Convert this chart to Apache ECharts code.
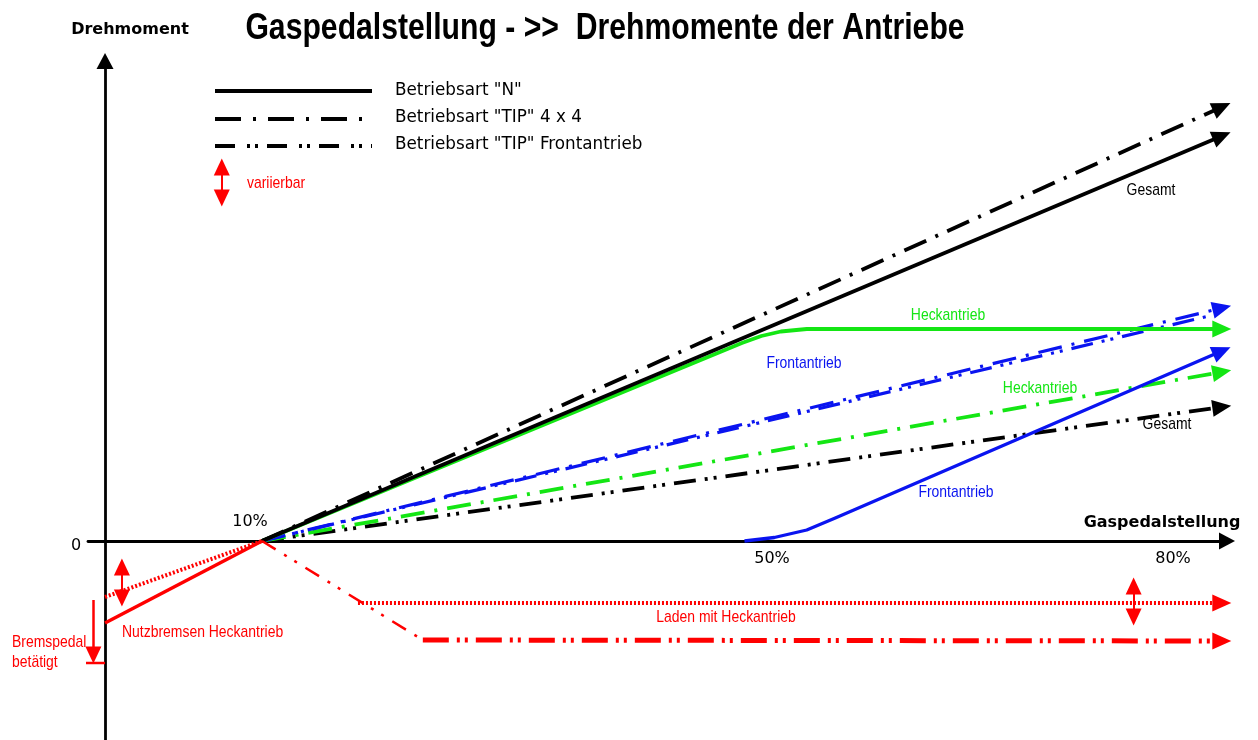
<!DOCTYPE html>
<html><head><meta charset="utf-8">
<script src="https://cdn.jsdelivr.net/npm/echarts@6/dist/echarts.min.js"></script>
<style>html,body{margin:0;padding:0;background:#fff}#c{width:1258px;height:740px}</style>
</head><body><div id="c"></div>
<script>
// ---- data (x: Gaspedalstellung in %, y: Drehmoment, arbitrary units) ----
const nGesamt        = [[10, 0], [84, 40.5]];
const tip4x4Gesamt   = [[10, 0], [84, 43.4]];
const nHeck          = [[10, 0], [47, 19.8], [48.5, 20.5], [50, 20.95], [52, 21.2], [84, 21.2]];
const nFront         = [[47.2, 0], [49.5, 0.35], [52, 1.1], [54.2, 2.3], [84, 19.0]];
const tip4x4Front    = [[10, 0], [84, 23.3]];
const tipFrontFront  = [[10, 0], [83, 22.5]];
const tip4x4Heck     = [[10, 0], [84, 16.9]];
const tipFrontGesamt = [[10, 0], [84, 13.4]];
const bremsVar       = [[-2.1, -5.6], [10, 0]];
const bremsN         = [[-2.1, -8.2], [10, 0]];
const ladenDiag      = [[10, 0], [22.4, -9.9]];
const ladenTip       = [[22.4, -9.9], [84, -10.0]];
const ladenN         = [[17.4, -6.2], [84, -6.2]];
const varArrowLeft   = [[-0.8, -2.6], [-0.8, -5.7]];
const varArrowRight  = [[77.2, -4.5], [77.2, -7.6]];
const varArrowLegend = [[6.9, 37.4], [6.9, 34.3]];
const bremsArrow     = [[-3.0, -5.9], [-3.0, -11.4]];
const bremsTick      = [[-4.2, -12.2], [-2.1, -12.2]];
const xTickLabels    = ['10%', '50%', '80%'];
const yTickLabels    = ['0'];
const legendLabels   = ['Betriebsart "N"', 'Betriebsart "TIP" 4 x 4', 'Betriebsart "TIP" Frontantrieb'];

const chart = echarts.init(document.getElementById('c'), null, {renderer: 'canvas'});
const SANS = "'Liberation Sans',Arial,sans-serif";
const DEJAVU = "'DejaVu Sans',sans-serif";
const RED = '#ff0000', GREEN = '#14e614', BLUE = '#0a14f0', BLACK = '#000000';
const DASH_DOT = [24, 10, 3, 10];
const DASH_DOT_DOT = [22, 9, 3, 6, 3, 9];

function curve(pts, color, width, dash, arrow, z) {
  const s = {
    type: 'line', data: pts, showSymbol: false, symbol: 'none', silent: true,
    animation: false, clip: false, z: z || 2,
    lineStyle: {color: color, width: width, type: dash || 'solid', cap: 'butt', join: 'round'},
    emphasis: {disabled: true}
  };
  if (arrow) {
    const a = pts[pts.length - 2], b = pts[pts.length - 1];
    const t = 0.002;
    const st = [b[0] - (b[0] - a[0]) * t, b[1] - (b[1] - a[1]) * t];
    s.markLine = {
      silent: true, animation: false, symbol: ['none', 'triangle'], symbolSize: [17, 19],
      label: {show: false}, emphasis: {disabled: true},
      lineStyle: {color: color, width: 1, type: 'solid'},
      data: [[{coord: st}, {coord: b}]]
    };
  }
  return s;
}
function dblArrow(pts, color, width, both) {
  return {
    type: 'line', data: [], showSymbol: false, silent: true, animation: false, clip: false, z: 3,
    markLine: {
      silent: true, animation: false, symbol: both ? ['triangle', 'triangle'] : ['none', 'triangle'],
      symbolSize: [16, 17], label: {show: false}, emphasis: {disabled: true},
      lineStyle: {color: color, width: width, type: 'solid'},
      data: [[{coord: pts[0]}, {coord: pts[1]}]]
    }
  };
}

const series = [
  curve(tipFrontGesamt, BLACK, 3.8, DASH_DOT_DOT, true),
  curve(tip4x4Heck, GREEN, 3.8, DASH_DOT, true),
  curve(tipFrontFront, BLUE, 3.2, DASH_DOT_DOT, false),
  curve(tip4x4Front, BLUE, 3.2, DASH_DOT, true),
  curve(nHeck, GREEN, 3.8, 'solid', true),
  curve(nGesamt, BLACK, 3.8, 'solid', true),
  curve(tip4x4Gesamt, BLACK, 3.8, DASH_DOT, true),
  curve(nFront, BLUE, 3.3, 'solid', true),
  curve(bremsVar, RED, 4, [2, 2], false),
  curve(bremsN, RED, 3.5, 'solid', false),
  curve(ladenDiag, RED, 2.5, [16, 10, 3, 9, 3, 10], false),
  curve(ladenTip, RED, 5, [26, 8, 3, 5, 3, 8], true),
  curve(ladenN, RED, 4, [2, 2], true),
  dblArrow(varArrowLeft, RED, 2, true),
  dblArrow(varArrowRight, RED, 2, true),
  dblArrow(varArrowLegend, RED, 2, true),
  dblArrow(bremsArrow, RED, 2.5, false),
  curve(bremsTick, RED, 2.5, 'solid', false)
];

function txt(x, y, text, font, color, align, sx) {
  return {type: 'text', x: x, y: y, silent: true, z: 10, scaleX: sx || 1,
    style: {text: text, font: font, fill: color || '#000', align: align || 'center', verticalAlign: 'middle'}};
}
function ann(x, y, text, color, align) {
  return txt(x, y, text, "17px " + SANS, color, align, 0.82);
}
function legendLine(y, dash) {
  return {type: 'line', silent: true, z: 10, shape: {x1: 215, y1: y, x2: 372, y2: y},
    style: {stroke: '#000', lineWidth: 4, lineDash: dash || null, lineCap: 'butt'}};
}

const graphic = [
  txt(605, 29, 'Gaspedalstellung - >>  Drehmomente der Antriebe', "bold 36px " + SANS, '#000', 'center', 0.838),
  txt(130, 30, 'Drehmoment', "bold 16px " + DEJAVU),
  txt(1162, 523, 'Gaspedalstellung', "bold 16px " + DEJAVU),
  txt(250, 522, xTickLabels[0], "16px " + DEJAVU),
  txt(772, 559, xTickLabels[1], "16px " + DEJAVU),
  txt(1173, 559, xTickLabels[2], "16px " + DEJAVU),
  txt(76, 546, yTickLabels[0], "16px " + DEJAVU),
  legendLine(91), legendLine(119, [26, 12, 3, 12]), legendLine(146, [20, 12, 3, 5, 3, 9]),
  txt(395, 91, legendLabels[0], "16.8px " + DEJAVU, '#000', 'left'),
  txt(395, 118, legendLabels[1], "16.8px " + DEJAVU, '#000', 'left'),
  txt(395, 145, legendLabels[2], "16.8px " + DEJAVU, '#000', 'left'),
  ann(247, 183, 'variierbar', RED, 'left'),
  ann(1151, 190, 'Gesamt', BLACK),
  ann(948, 315, 'Heckantrieb', GREEN),
  ann(804, 363, 'Frontantrieb', BLUE),
  ann(1040, 388, 'Heckantrieb', GREEN),
  ann(1167, 424, 'Gesamt', BLACK),
  ann(956, 492, 'Frontantrieb', BLUE),
  ann(726, 617, 'Laden mit Heckantrieb', RED),
  ann(122, 632, 'Nutzbremsen Heckantrieb', RED, 'left'),
  ann(12, 642, 'Bremspedal', RED, 'left'),
  ann(12, 662, 'betätigt', RED, 'left')
];

chart.setOption({
  animation: false,
  backgroundColor: '#ffffff',
  grid: {left: 88, right: 31, top: 61, bottom: 0, containLabel: false},
  xAxis: {
    type: 'value', min: -3.414, max: 84.4,
    axisLine: {show: true, onZero: true, symbol: ['none', 'triangle'], symbolSize: [17, 16],
      lineStyle: {color: '#000', width: 2.8}},
    axisTick: {show: false}, axisLabel: {show: false}, splitLine: {show: false}
  },
  yAxis: {
    type: 'value', min: -19.9, max: 48.0, offset: -17,
    axisLine: {show: true, onZero: false, symbol: ['none', 'triangle'], symbolSize: [17, 16],
      lineStyle: {color: '#000', width: 2.8}},
    axisTick: {show: false}, axisLabel: {show: false}, splitLine: {show: false}
  },
  series: series,
  graphic: graphic
});
</script>
</body></html>
